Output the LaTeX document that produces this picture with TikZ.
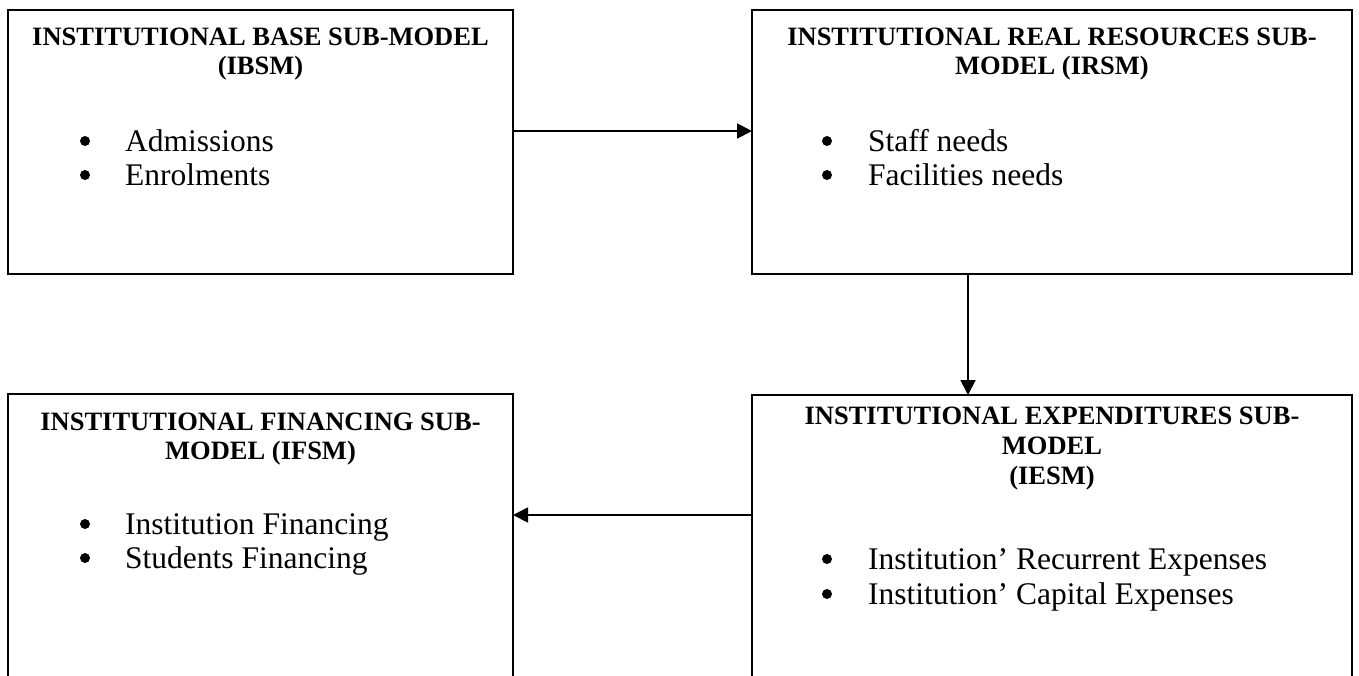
\documentclass[tikz,border=0pt]{standalone}
\usepackage{fontspec}
\setmainfont{Liberation Serif}
\usetikzlibrary{arrows.meta}
\begin{document}
\begin{tikzpicture}[x=1pt,y=-1pt,
  box/.style={draw, line width=1.8pt, inner sep=0pt, outer sep=0pt, anchor=north west},
  ttl/.style={font=\fontsize{26.5}{30.5}\selectfont\bfseries, anchor=base, inner sep=0pt},
  itm/.style={font=\fontsize{31.5}{36}\selectfont, anchor=base west, inner sep=0pt},
  dot/.style={circle, fill, inner sep=0pt, minimum size=10pt},
  arr/.style={line width=1.8pt, -{Triangle[length=15pt,width=15pt]}}]
\useasboundingbox (0,0) rectangle (1359,675);
\clip (0,0) rectangle (1359,675);

% the four sub-model boxes
\node[box, minimum width=505pt, minimum height=264pt] (ibsm) at (8,10) {};
\node[box, minimum width=600pt, minimum height=264pt] (irsm) at (752,10) {};
\node[box, minimum width=505pt, minimum height=330pt] (ifsm) at (8,394) {};
\node[box, minimum width=600pt, minimum height=330pt] (iesm) at (752,395) {};

% base sub-model
\node[ttl] (ibsm-t1) at (260.5,45) {INSTITUTIONAL BASE SUB-MODEL};
\node[ttl] (ibsm-t2) at (260.5,74) {(IBSM)};
\node[dot] (ibsm-d1) at (85,141) {};
\node[itm] (ibsm-i1) at (125,151) {Admissions};
\node[dot] (ibsm-d2) at (85,175) {};
\node[itm] (ibsm-i2) at (125,185) {Enrolments};

% real resources sub-model
\node[ttl] (irsm-t1) at (1052,45) {INSTITUTIONAL REAL RESOURCES SUB-};
\node[ttl] (irsm-t2) at (1052,74) {MODEL (IRSM)};
\node[dot] (irsm-d1) at (827,141) {};
\node[itm] (irsm-i1) at (868,151) {Staff needs};
\node[dot] (irsm-d2) at (827,175) {};
\node[itm] (irsm-i2) at (868,185) {Facilities needs};

% financing sub-model
\node[ttl] (ifsm-t1) at (260.5,430) {INSTITUTIONAL FINANCING SUB-};
\node[ttl] (ifsm-t2) at (260.5,459) {MODEL (IFSM)};
\node[dot] (ifsm-d1) at (85,524) {};
\node[itm] (ifsm-i1) at (125,534) {Institution Financing};
\node[dot] (ifsm-d2) at (85,558) {};
\node[itm] (ifsm-i2) at (125,568) {Students Financing};

% expenditures sub-model
\node[ttl] (iesm-t1) at (1052,424) {INSTITUTIONAL EXPENDITURES SUB-};
\node[ttl] (iesm-t2) at (1052,454) {MODEL};
\node[ttl] (iesm-t3) at (1052,484) {(IESM)};
\node[dot] (iesm-d1) at (827,559) {};
\node[itm] (iesm-i1) at (868,569) {Institution’ Recurrent Expenses};
\node[dot] (iesm-d2) at (827,594) {};
\node[itm] (iesm-i2) at (868,604) {Institution’ Capital Expenses};

% flow between sub-models
\draw[arr] (ibsm.north east |- 0,131) -- (irsm.north west |- 0,131);
\draw[arr] (irsm.south west -| 968,0) -- (iesm.north west -| 968,0);
\draw[arr] (iesm.north west |- 0,515) -- (ifsm.north east |- 0,515);
\end{tikzpicture}
\end{document}
